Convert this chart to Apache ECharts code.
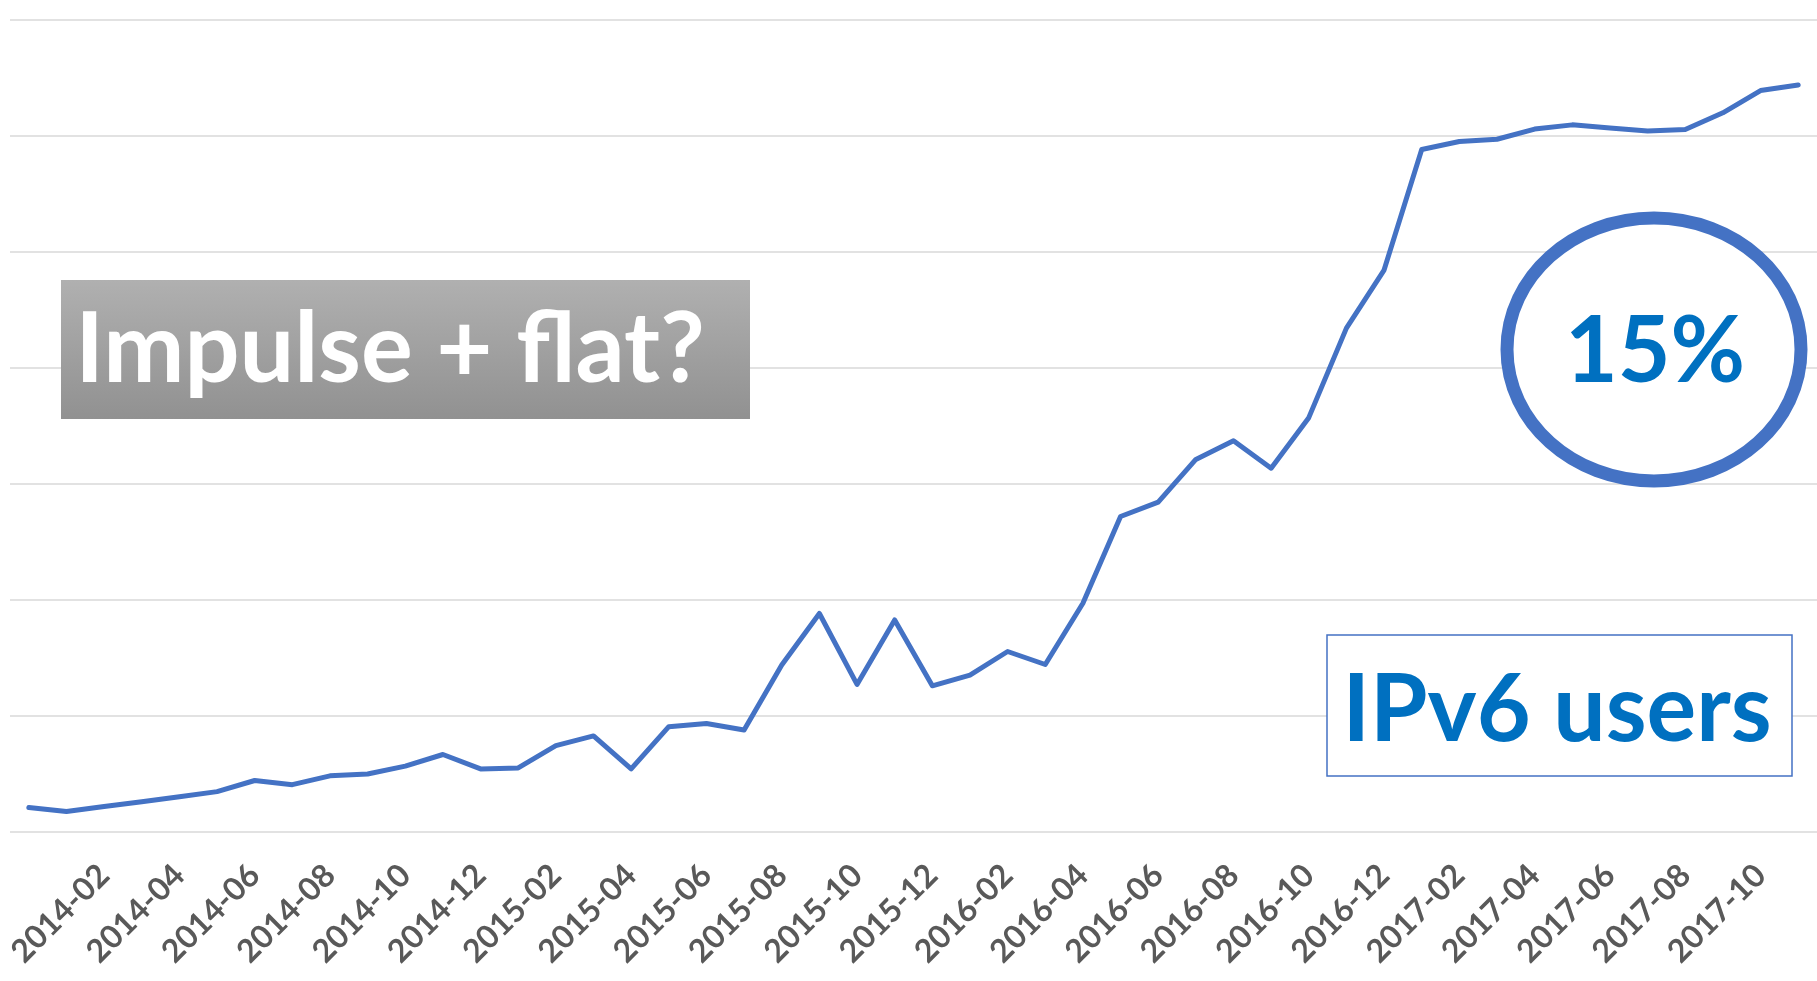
<!DOCTYPE html>
<html>
<head>
<meta charset="utf-8">
<style>
html,body{margin:0;padding:0;background:#fff;}
#chart{width:1817px;height:981px;}
</style>
<script src="https://cdn.jsdelivr.net/npm/echarts@6/dist/echarts.min.js"></script>
</head>
<body>
<div id="chart"></div>
<script>
// Months from 2013-12 to 2017-11
const months = [
  '2013-12','2014-01','2014-02','2014-03','2014-04','2014-05','2014-06','2014-07','2014-08','2014-09','2014-10','2014-11',
  '2014-12','2015-01','2015-02','2015-03','2015-04','2015-05','2015-06','2015-07','2015-08','2015-09','2015-10','2015-11',
  '2015-12','2016-01','2016-02','2016-03','2016-04','2016-05','2016-06','2016-07','2016-08','2016-09','2016-10','2016-11',
  '2016-12','2017-01','2017-02','2017-03','2017-04','2017-05','2017-06','2017-07','2017-08','2017-09','2017-10','2017-11'
];
// IPv6 users (%)
const ipv6Users = [
  0.53, 0.44, 0.55, 0.65, 0.76, 0.87, 1.11, 1.02, 1.21, 1.25, 1.42, 1.67,
  1.36, 1.38, 1.86, 2.07, 1.36, 2.27, 2.34, 2.20, 3.60, 4.71, 3.18, 4.57,
  3.15, 3.38, 3.89, 3.61, 4.93, 6.80, 7.11, 8.03, 8.43, 7.84, 8.93, 10.86,
  12.11, 14.71, 14.88, 14.93, 15.15, 15.24, 15.17, 15.11, 15.14, 15.50, 15.98, 16.10
];
const yMin = 0, yMax = 17.5, yStep = 2.5;
const boxTitle = 'Impulse + flat?';
const circleText = '15%';
const seriesLabel = 'IPv6 users';

const chart = echarts.init(document.getElementById('chart'));
chart.setOption({
  backgroundColor: '#ffffff',
  animation: false,
  grid: { left: 10, right: 0, top: 20, bottom: 149, containLabel: false },
  xAxis: {
    type: 'category',
    data: months,
    boundaryGap: true,
    axisLine: { show: false },
    axisTick: { show: false },
    axisLabel: {
      rotate: 45,
      interval: (i) => i > 0 && i % 2 === 0,
      margin: 38,
      color: '#595959',
      fontFamily: 'Lato',
      fontWeight: 'bold',
      fontSize: 32
    }
  },
  yAxis: {
    type: 'value',
    min: yMin, max: yMax, interval: yStep,
    axisLine: { show: false },
    axisTick: { show: false },
    axisLabel: { show: false },
    splitLine: { lineStyle: { color: '#D9D9D9', width: 1.5 } }
  },
  series: [{
    type: 'line',
    name: seriesLabel,
    data: ipv6Users,
    symbol: 'none',
    smooth: false,
    lineStyle: { color: '#4472C4', width: 5, cap: 'round', join: 'round' }
  }],
  graphic: [
    {
      type: 'rect',
      shape: { x: 61, y: 280, width: 689, height: 139 },
      style: {
        fill: new echarts.graphic.LinearGradient(0, 0, 0, 1, [
          { offset: 0, color: '#B0B0B0' },
          { offset: 1, color: '#919191' }
        ])
      },
      z: 10
    },
    {
      type: 'text',
      x: 390, y: 351,
      style: {
        text: boxTitle,
        fill: '#ffffff',
        font: 'bold 97px Lato',
        align: 'center',
        verticalAlign: 'middle'
      },
      z: 11
    },
    {
      type: 'ellipse',
      shape: { cx: 1654, cy: 349.5, rx: 147, ry: 131.5 },
      style: { fill: '#ffffff', stroke: '#4472C4', lineWidth: 13 },
      z: 10
    },
    {
      type: 'text',
      x: 1655, y: 353,
      style: {
        text: circleText,
        fill: '#0070C0',
        font: 'bold 91px Lato',
        align: 'center',
        verticalAlign: 'middle'
      },
      z: 11
    },
    {
      type: 'rect',
      shape: { x: 1327, y: 635, width: 465, height: 141 },
      style: { fill: '#ffffff', stroke: '#4472C4', lineWidth: 1.5 },
      z: 10
    },
    {
      type: 'text',
      x: 1557, y: 711,
      style: {
        text: seriesLabel,
        fill: '#0070C0',
        font: 'bold 93px Lato',
        align: 'center',
        verticalAlign: 'middle'
      },
      z: 11
    }
  ]
});
</script>
</body>
</html>
